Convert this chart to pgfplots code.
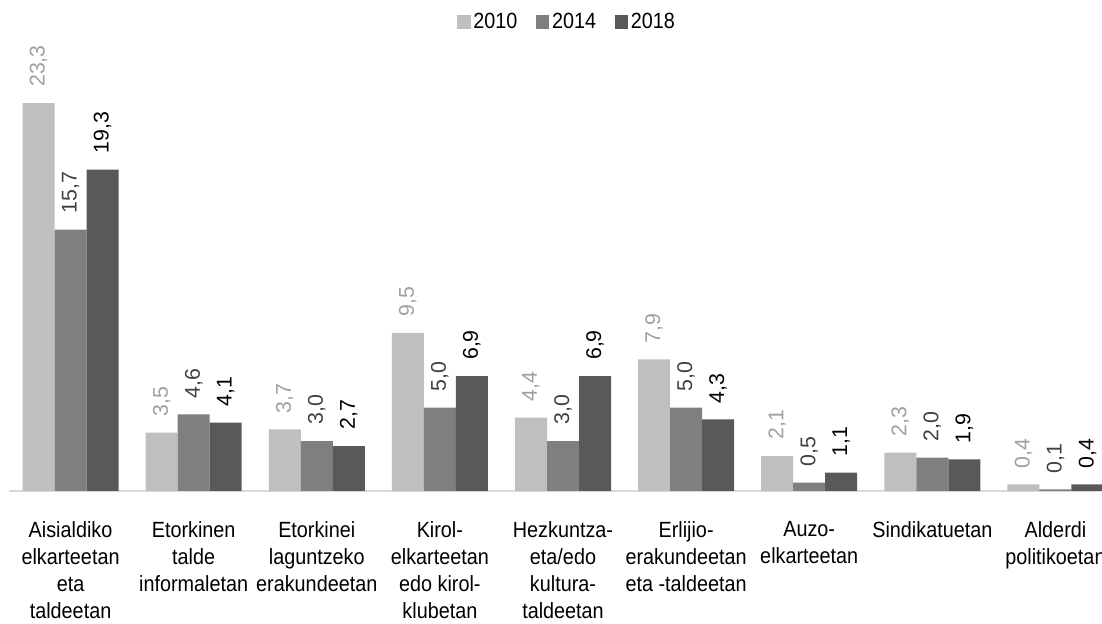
\documentclass[border=0pt]{standalone}
\usepackage{pgfplots}
\pgfplotsset{compat=1.18}
\usepackage{fontspec}
\setmainfont{Liberation Sans}[FakeStretch=0.9]
\newfontfamily\valfont{Liberation Sans}
\definecolor{c10}{HTML}{BFBFBF}
\definecolor{c14}{HTML}{7F7F7F}
\definecolor{c18}{HTML}{595959}
\definecolor{t10}{HTML}{A0A0A0}
\definecolor{t14}{HTML}{404040}
\definecolor{t18}{HTML}{000000}
\pgfplotsset{
  sq legend/.style={legend image code/.code={\fill[##1,draw=none] (0pt,-5pt) rectangle (10pt,5pt);}},
  vlab/.style={nodes near coords, every node near coord/.append style={rotate=90, anchor=west, inner xsep=12pt, inner ysep=0pt, font=\valfont\fontsize{16}{19}\selectfont, text=#1}},
}
\begin{document}
\begin{tikzpicture}
\useasboundingbox (0,0) rectangle (826.5pt,468pt);
\clip (0,0) rectangle (826.5pt,468pt);
\begin{axis}[
  at={(6.75pt,99.75pt)}, anchor=south west,
  scale only axis, width=831pt, height=312.2pt,
  xmin=-0.5, xmax=8.5, ymin=0, ymax=25,
  ybar=0pt, bar width=24pt,
  axis x line=bottom, axis y line=none,
  x axis line style={-, color=black!15, line width=1.2pt},
  xtick={0,...,8}, xtick style={draw=none},
  ytick=\empty,
  xticklabels={{Aisialdiko\\elkarteetan\\eta\\taldeetan},
    {Etorkinen\\talde\\informaletan},
    {Etorkinei\\laguntzeko\\erakundeetan},
    {Kirol-\\elkarteetan\\edo kirol-\\klubetan},
    {Hezkuntza-\\eta/edo\\kultura-\\taldeetan},
    {Erlijio-\\erakundeetan\\eta -taldeetan},
    {Auzo-\\elkarteetan},
    {Sindikatuetan},
    {Alderdi\\politikoetan}},
  xticklabel style={align=center, font=\fontsize{16.5}{20.25}\selectfont, yshift=-17pt, text=black},
  /pgf/number format/.cd, use comma, fixed, fixed zerofill, precision=1, assume math mode=true,
  /pgfplots/.cd,
  legend style={at={(0.504,1.127)}, anchor=center, draw=none, legend columns=3,
    font=\fontsize{16.5}{20}\selectfont,
    /tikz/every even column/.append style={column sep=12pt},
    nodes={inner xsep=2pt}},
]
\addplot[fill=c10, draw=none, sq legend, vlab=t10] coordinates {(0,23.3) (1,3.5) (2,3.7) (3,9.5) (4,4.4) (5,7.9) (6,2.1) (7,2.3) (8,0.4)};
\addplot[fill=c14, draw=none, sq legend, vlab=t14] coordinates {(0,15.7) (1,4.6) (2,3.0) (3,5.0) (4,3.0) (5,5.0) (6,0.5) (7,2.0) (8,0.1)};
\addplot[fill=c18, draw=none, sq legend, vlab=t18] coordinates {(0,19.3) (1,4.1) (2,2.7) (3,6.9) (4,6.9) (5,4.3) (6,1.1) (7,1.9) (8,0.4)};
\legend{2010,2014,2018}
\end{axis}
\end{tikzpicture}
\end{document}
